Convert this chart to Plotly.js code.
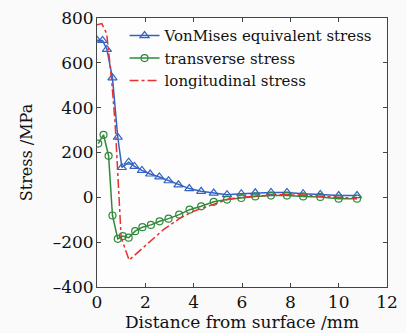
<!DOCTYPE html>
<html><head><meta charset="utf-8">
<script src="https://cdn.plot.ly/plotly-3.0.1.min.js"></script>
<style>html,body{margin:0;padding:0;background:#fafafa;}</style>
</head><body><div id="chart" style="width:406px;height:333px;"></div>
<script>
const vmX = [0, 0.23, 0.41, 0.64, 0.86, 1.03, 1.31, 1.55, 1.86, 2.2, 2.58, 2.96, 3.37, 3.82, 4.31, 4.83, 5.38, 5.97, 6.55, 7.2, 7.86, 8.53, 9.24, 10, 10.76];
const vmY = [701, 700, 660, 533, 268, 133, 157, 138, 120, 104, 91, 74, 56, 39, 27, 19, 12, 16, 20, 22, 22, 16, 13, 8, 8];
const trX = [0.05, 0.27, 0.48, 0.64, 0.86, 1.07, 1.31, 1.58, 1.88, 2.23, 2.59, 2.96, 3.4, 3.83, 4.31, 4.83, 5.38, 5.97, 6.55, 7.2, 7.86, 8.53, 9.24, 10, 10.76];
const trY = [240, 279, 185, -81, -185, -173, -180, -151, -133, -123, -107, -95, -77, -55, -40, -20, -10, -3, 4, 8, 8, 4, 2, -6, -6];
const loX = [0, 0.2, 0.4, 0.6, 0.75, 1.0, 1.33, 2.0, 2.75, 3.45, 4.0, 4.7, 5.5, 6.5, 7.5, 8.5, 9.5, 10.76];
const loY = [770, 775, 730, 530, 330, -180, -280, -215, -144, -92, -62, -36, -6, 5, 12, 10, 3, -5];
const xTicks = [0, 2, 4, 6, 8, 10, 12];
const yTicks = [-400, -200, 0, 200, 400, 600, 800];

const serif = 'DejaVu Serif, serif';
const tickFont = {family: serif, color: '#111', size: 17};
const traces = [
  {x: vmX, y: vmY, name: 'VonMises equivalent stress', mode: 'lines+markers',
   line: {color: '#3462c4', width: 1.5},
   marker: {symbol: 'triangle-up-open', size: 8, color: '#3462c4', line: {width: 1.2}}},
  {x: trX, y: trY, name: 'transverse stress', mode: 'lines+markers',
   line: {color: '#2f8a3a', width: 1.5},
   marker: {symbol: 'circle-open', size: 7, color: '#2f8a3a', line: {width: 1.2}}},
  {x: loX, y: loY, name: 'longitudinal stress', mode: 'lines',
   line: {color: '#e8302c', width: 1.5, dash: 'dashdot'}}
];
const axisCommon = {showline: true, mirror: 'ticks', linecolor: '#444', linewidth: 1,
  ticks: 'inside', ticklen: 4, tickcolor: '#444', showgrid: false, zeroline: false,
  tickfont: tickFont};
const layout = {
  width: 406, height: 333,
  margin: {l: 97, r: 19, t: 18, b: 46},
  paper_bgcolor: '#fafafa', plot_bgcolor: '#fdfdfd',
  font: {family: serif, color: '#111', size: 15},
  showlegend: true,
  legend: {x: 0.095, y: 0.995, xanchor: 'left', yanchor: 'top', bgcolor: 'rgba(0,0,0,0)',
    font: {family: serif, size: 15, color: '#111'}, tracegroupgap: 0,
    itemwidth: 30},
  xaxis: Object.assign({}, axisCommon, {range: [0, 12], tickvals: xTicks, ticktext: xTicks.map(String),
    title: {text: 'Distance from surface /mm', font: {family: serif, size: 17, color: '#111'}, standoff: 3}}),
  yaxis: Object.assign({}, axisCommon, {range: [-400, 800], tickvals: yTicks,
    ticklabelstandoff: -1,
    ticktext: yTicks.map(v => v < 0 ? '\u2013' + Math.abs(v) : String(v)),
    title: {text: 'Stress /MPa', font: {family: serif, size: 16, color: '#111'}, standoff: 16}})
};
Plotly.newPlot('chart', traces, layout, {displayModeBar: false, staticPlot: true});
</script></body></html>
